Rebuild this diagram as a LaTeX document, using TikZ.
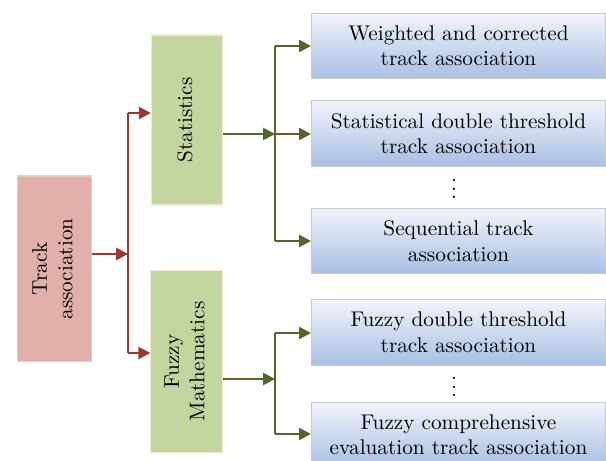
\documentclass[tikz,border=0pt]{standalone}
\usepackage{graphicx}
\usetikzlibrary{arrows.meta}

\definecolor{redfill}{RGB}{226,176,170}
\definecolor{redborder}{RGB}{236,200,194}
\definecolor{redline}{RGB}{152,56,50}
\definecolor{greenfill}{RGB}{196,214,160}
\definecolor{greenborder}{RGB}{246,232,212}
\definecolor{greenline}{RGB}{82,102,42}
\definecolor{leaftop}{RGB}{242,244,251}
\definecolor{leafbottom}{RGB}{168,191,228}
\definecolor{leafborder}{RGB}{200,202,206}

\tikzset{
  base/.style={draw, line width=0.5pt, inner sep=0pt, align=center},
  trackbox/.style={base, draw=redborder, fill=redfill,
    minimum width=34.4pt, minimum height=87.5pt},
  methodbox/.style={base, draw=greenborder, fill=greenfill, minimum width=33.6pt},
  leafbox/.style={base, draw=leafborder, top color=leaftop, bottom color=leafbottom,
    minimum width=138.4pt, minimum height=31pt},
  gap/.style={inner sep=0pt},
  redline/.style={draw=redline, line width=0.65pt},
  greenline/.style={draw=greenline, line width=0.65pt},
  redarrow/.style={redline, -{Triangle[length=5.6pt,width=5.8pt]}},
  greenarrow/.style={greenline, -{Triangle[length=5.6pt,width=5.8pt]}},
}

\newcommand{\upright}[1]{\rotatebox{90}{\begin{tabular}{@{}c@{}}#1\end{tabular}}}

\begin{document}
\begin{tikzpicture}[x=0.4706pt, y=-0.4706pt]
  \useasboundingbox (0,0) rectangle (606,461);

  % root and the two method families
  \node[trackbox] (track) at (54.5,269) {\upright{Track\\association}};
  \node[methodbox, minimum height=80pt] (stats) at (187,120) {\upright{Statistics}};
  \node[methodbox, minimum height=86pt] (fuzzy) at (186.5,361.5) {\upright{Fuzzy\\Mathematics}};

  % concrete association methods
  \node[leafbox] (leaf1) at (458.5,46)  {Weighted and corrected\\track association};
  \node[leafbox] (leaf2) at (458.5,133.5) {Statistical double threshold\\track association};
  \node[gap] (dots1) at (454,183) {$\vdots$};
  \node[leafbox] (leaf3) at (458.5,241) {Sequential track\\association};
  \node[leafbox] (leaf4) at (458.5,332.5) {Fuzzy double threshold\\track association};
  \node[gap] (dots2) at (454,381) {$\vdots$};
  \node[leafbox] (leaf5) at (458.5,435) {Fuzzy comprehensive\\evaluation track association};

  % red branching from the root
  \coordinate (rj) at (128,254);
  \coordinate (rtop) at (128,113);
  \coordinate (rbot) at (128,353);
  \draw[redarrow] (track.east |- rj) -- (rj);
  \draw[redline] (rtop) -- (rbot);
  \draw[redarrow] (rtop) -- (rtop -| stats.west);
  \draw[redarrow] (rbot) -- (rbot -| fuzzy.west);

  % green branching from Statistics
  \coordinate (sj) at (275,134);
  \coordinate (stop) at (275,46);
  \coordinate (sbot) at (275,241);
  \draw[greenarrow] (stats.east |- sj) -- (sj);
  \draw[greenline] (stop) -- (sbot);
  \draw[greenarrow] (stop) -- (stop -| leaf1.west);
  \draw[greenarrow] (sj) -- (sj -| leaf2.west);
  \draw[greenarrow] (sbot) -- (sbot -| leaf3.west);

  % green branching from Fuzzy Mathematics
  \coordinate (fj) at (275,379);
  \coordinate (ftop) at (275,333);
  \coordinate (fbot) at (275,434);
  \draw[greenarrow] (fuzzy.east |- fj) -- (fj);
  \draw[greenline] (ftop) -- (fbot);
  \draw[greenarrow] (ftop) -- (ftop -| leaf4.west);
  \draw[greenarrow] (fbot) -- (fbot -| leaf5.west);
\end{tikzpicture}
\end{document}
